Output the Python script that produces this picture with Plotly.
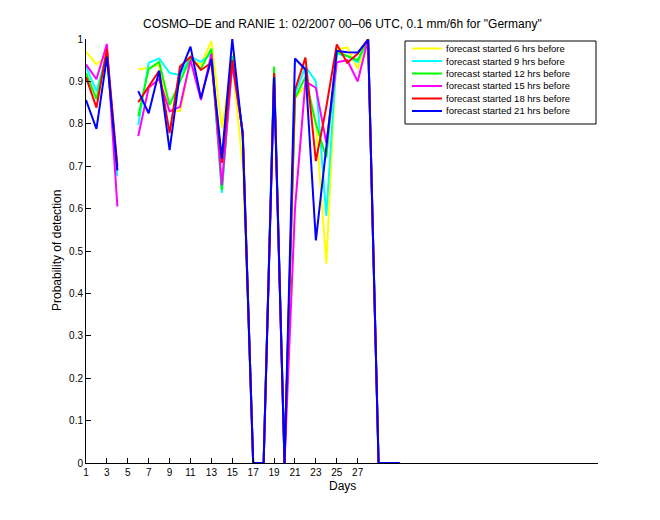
import plotly.graph_objects as go

days = list(range(1, 32))
N = None
yellow_6h = [0.97, 0.94, 0.96, 0.70, N, 0.928, 0.932, 0.94, 0.83, 0.83, 0.95, 0.94, 0.995, 0.79, 0.95, 0.70,
             0, 0, 0.92, 0, 0.86, 0.89, 0.80, 0.47, 0.975, 0.98, 0.93, 1.0, 0, 0, 0]
cyan_9h = [0.935, 0.877, 0.965, 0.677, N, 0.797, 0.944, 0.954, 0.92, 0.915, 0.958, 0.946, 0.965, 0.637, 0.95, 0.78,
           0, 0, 0.92, 0, 0.87, 0.935, 0.90, 0.583, 0.965, 0.96, 0.945, 1.0, 0, 0, 0]
green_12h = [0.92, 0.858, 0.97, 0.69, N, 0.818, 0.929, 0.946, 0.844, 0.90, 0.955, 0.93, 0.977, 0.644, 0.96, 0.78,
             0, 0, 0.935, 0, 0.86, 0.91, 0.80, 0.72, 0.97, 0.96, 0.95, 1.0, 0, 0, 0]
magenta_15h = [0.94, 0.905, 0.988, 0.605, N, 0.771, 0.885, 0.906, 0.829, 0.84, 0.95, 0.856, 0.965, 0.655, 0.94, 0.78,
               0, 0, 0.915, 0, 0.60, 0.90, 0.885, 0.755, 0.945, 0.95, 0.90, 1.0, 0, 0, 0]
red_18h = [0.91, 0.838, 0.976, 0.70, N, 0.851, 0.889, 0.925, 0.778, 0.935, 0.958, 0.927, 0.944, 0.708, 0.95, 0.78,
           0, 0, 0.92, 0, 0.88, 0.956, 0.712, 0.84, 0.987, 0.944, 0.965, 1.0, 0, 0, 0]
blue_21h = [0.856, 0.788, 0.958, 0.69, N, 0.877, 0.825, 0.925, 0.738, 0.92, 0.982, 0.86, 0.953, 0.718, 1.0, 0.77,
            0, 0, 0.91, 0, 0.954, 0.928, 0.525, 0.745, 0.972, 0.969, 0.968, 0.998, 0, 0, 0]

series_values = [yellow_6h, cyan_9h, green_12h, magenta_15h, red_18h, blue_21h]
series_names = ["forecast started 6 hrs before", "forecast started 9 hrs before",
                "forecast started 12 hrs before", "forecast started 15 hrs before",
                "forecast started 18 hrs before", "forecast started 21 hrs before"]
series_colors = ["#FFFF00", "#00FFFF", "#00FF00", "#FF00FF", "#FF0000", "#0000FF"]

x_tickvals = list(range(1, 28, 2))
y_tickvals = [i / 10 for i in range(11)]
y_ticktext = ["0", "0.1", "0.2", "0.3", "0.4", "0.5", "0.6", "0.7", "0.8", "0.9", "1"]

W, H = 660, 520
L, R, T, B = 86, 62, 39, 57
PW, PH = W - L - R, H - T - B


def px2x(px):
    return (px - L) / PW


def py2y(py):
    return (H - B - py) / PH


FONT = "Liberation Sans, Arial, Helvetica, sans-serif"

fig = go.Figure()
for vals, name, col in zip(series_values, series_names, series_colors):
    fig.add_trace(go.Scatter(x=days, y=vals, mode="lines", name=name,
                             line=dict(color=col, width=2), connectgaps=False,
                             showlegend=False))

shapes = []
annotations = []
# legend box
shapes.append(dict(type="rect", xref="paper", yref="paper",
                   x0=px2x(405), x1=px2x(596), y0=py2y(124), y1=py2y(41),
                   line=dict(color="black", width=1), fillcolor="white", layer="above"))
for i, (name, col) in enumerate(zip(series_names, series_colors)):
    yy = 48.5 + 12.5 * i
    shapes.append(dict(type="line", xref="paper", yref="paper",
                       x0=px2x(412), x1=px2x(442), y0=py2y(yy), y1=py2y(yy),
                       line=dict(color=col, width=2), layer="above"))
    annotations.append(dict(text=name, xref="paper", yref="paper",
                            x=px2x(444), y=py2y(yy), xanchor="left", yanchor="middle",
                            showarrow=False, font=dict(family=FONT, size=9.5, color="black")))

annotations.append(dict(text="Days", xref="paper", yref="paper", x=0.5, y=py2y(486),
                        xanchor="center", yanchor="middle", showarrow=False,
                        font=dict(family=FONT, size=12, color="black")))
annotations.append(dict(text="Probability of detection", xref="paper", yref="paper",
                        x=px2x(57), y=0.5, textangle=-90, xanchor="center", yanchor="middle",
                        showarrow=False, font=dict(family=FONT, size=12, color="black")))
annotations.append(dict(text='COSMO–DE and RANIE 1: 02/2007 00–06 UTC, 0.1 mm/6h for "Germany"',
                        xref="paper", yref="paper", x=0.5, y=py2y(24),
                        xanchor="center", yanchor="middle", showarrow=False,
                        font=dict(family=FONT, size=12, color="black")))

fig.update_layout(
    width=W, height=H,
    margin=dict(l=L, r=R, t=T, b=B, pad=0),
    paper_bgcolor="white", plot_bgcolor="white",
    font=dict(family=FONT, size=10, color="black"),
    shapes=shapes, annotations=annotations,
    showlegend=False,
    xaxis=dict(range=[1, 50], tickvals=x_tickvals, ticks="inside", ticklen=5,
               tickcolor="black", showline=True, linecolor="black", linewidth=1,
               showgrid=False, zeroline=False, tickfont=dict(size=10)),
    yaxis=dict(range=[0, 1], tickvals=y_tickvals, ticktext=y_ticktext, ticks="inside",
               ticklen=5, tickcolor="black", showline=True, linecolor="black", linewidth=1,
               showgrid=False, zeroline=False, tickfont=dict(size=10)),
)

fig.write_html("out.html")
